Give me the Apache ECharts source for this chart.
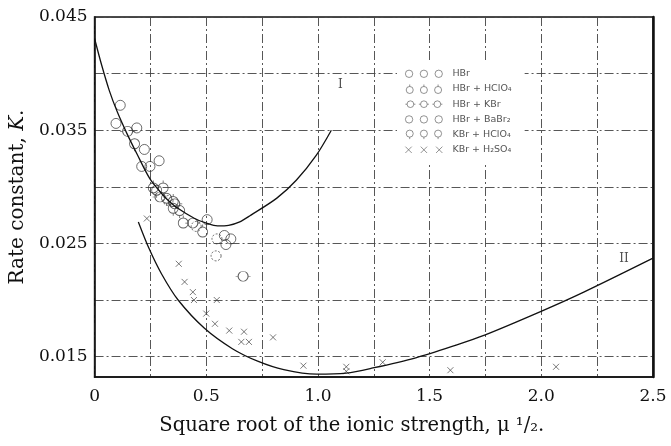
<!DOCTYPE html>
<html><head><meta charset="utf-8">
<script src="https://cdn.jsdelivr.net/npm/echarts@6/dist/echarts.min.js"></script>
<style>html,body{margin:0;padding:0;background:#fff}#c{width:671px;height:446px}</style>
</head><body><div id="c"></div>
<script>
// ---- data ----
const xLabelValues = [0, 0.5, 1.0, 1.5, 2.0, 2.5];
const xGridValues = [0, 0.25, 0.5, 0.75, 1.0, 1.25, 1.5, 1.75, 2.0, 2.25, 2.5];
const yLabelValues = [0.015, 0.025, 0.035, 0.045];
const yGridValues = [0.015, 0.020, 0.025, 0.030, 0.035, 0.040, 0.045];

const curveI = [[0,0.0431],[0.031,0.0408],[0.066,0.0385],[0.102,0.0366],[0.145,0.0347],[0.190,0.0329],
  [0.248,0.0307],[0.305,0.0293],[0.330,0.0288],[0.373,0.0281],[0.448,0.0272],[0.50,0.0268],[0.55,0.02655],
  [0.60,0.0266],[0.65,0.0269],[0.70,0.0275],[0.816,0.0290],[0.904,0.0306],[0.993,0.0328],[1.06,0.0350]];
const curveII = [[0.196,0.0269],[0.245,0.0245],[0.300,0.0223],[0.374,0.0200],[0.492,0.0175],[0.617,0.0157],
  [0.73,0.0146],[0.847,0.01385],[0.994,0.01345],[1.127,0.01355],[1.246,0.0140],[1.438,0.0149],[1.615,0.0160],
  [1.746,0.0169],[1.999,0.0190],[2.190,0.0207],[2.5,0.0237]];
const curveLabels = [['I', 1.10, 0.0390], ['II', 2.37, 0.0236]];

const seriesNames = ['HBr', 'HBr + HClO\u2084', 'HBr + KBr', 'HBr + BaBr\u2082', 'KBr + HClO\u2084', 'KBr + H\u2082SO\u2084'];
const hbr = [[0.115,0.0372],[0.096,0.0356],[0.189,0.0352],[0.223,0.0333],[0.289,0.0323],[0.211,0.0318],
  [0.248,0.0318],[0.504,0.0271],[0.581,0.0257],[0.610,0.0254],[0.588,0.0249]];
const hbrHClO4 = [[0.307,0.0299],[0.263,0.0299],[0.352,0.0287],[0.397,0.0268],[0.484,0.0260]];
const hbrKBr = [[0.148,0.0349],[0.293,0.0291],[0.359,0.0285],[0.440,0.0268],[0.665,0.0221]];
const hbrBaBr2 = [[0.548,0.0254],[0.544,0.0239],[0.455,0.0265],[0.329,0.0288]];
const kbrHClO4 = [[0.278,0.0297],[0.322,0.0290],[0.381,0.0279],[0.352,0.0281],[0.179,0.0338]];
const kbrH2SO4 = [[0.377,0.0232],[0.403,0.0216],[0.440,0.0207],[0.445,0.0200],[0.547,0.0200],[0.500,0.0188],
  [0.539,0.0179],[0.603,0.0173],[0.669,0.0172],[0.657,0.0163],[0.691,0.0163],[0.799,0.0167],[0.935,0.0142],
  [1.127,0.0141],[1.127,0.0137],[1.290,0.0145],[1.593,0.0138],[2.066,0.0141],[0.234,0.0272]];

// ---- symbol shapes ----
function circ(cx, cy, r) { return `M${cx-r},${cy}A${r},${r},0,1,1,${cx+r},${cy}A${r},${r},0,1,1,${cx-r},${cy}Z`; }
const symPlain = 'circle';
const symTop = 'path://' + circ(5,5,5) + 'M5,0L5,-2.5';
const symSides = 'path://' + circ(5,5,5) + 'M-2.5,5L0,5M10,5L12.5,5';
const symBottom = 'path://' + circ(5,5,5) + 'M5,10L5,12.5';
const symCross = 'path://M0,0L6,6M6,0L0,6';
const centers = [4, 18.5, 33];
function tri(f) { return 'path://' + centers.map(f).join(''); }
const legIcons = [
  tri(c => circ(c,4,3.6)),
  tri(c => circ(c,4,3.6) + `M${c},0.4L${c},-1.6`),
  tri(c => circ(c,4,3.6) + `M${c-5.4},4L${c-3.6},4M${c+3.6},4L${c+5.4},4`),
  tri(c => circ(c,4,3.6)),
  tri(c => circ(c,4,3.6) + `M${c},7.6L${c},9.6`),
  tri(c => `M${c-3},1L${c+3},7M${c+3},1L${c-3},7`)
];

const serif = 'DejaVu Serif';
const ptStyle = { color: 'transparent', borderColor: '#333', borderWidth: 0.9 };
function scatter(name, data, symbol, size, offset, extra) {
  return { type: 'scatter', name, data, symbol, symbolSize: size, symbolOffset: offset || [0,0],
    itemStyle: Object.assign({}, ptStyle, extra || {}), z: 3, emphasis: { disabled: true } };
}

const chart = echarts.init(document.getElementById('c'), null, { renderer: 'canvas' });
const gridLine = { show: true, lineStyle: { color: '#444', width: 0.9, type: [9, 3, 2, 3] } };
chart.setOption({
  animation: false,
  backgroundColor: '#fff',
  grid: { left: 89, right: 18, top: 17, bottom: 69, show: true, borderColor: '#111', borderWidth: 1.5 },
  legend: {
    orient: 'vertical', left: 397, top: 62, itemWidth: 37, itemHeight: 9, itemGap: 5.2,
    padding: [6.8, 13, 9, 8], backgroundColor: '#fff',
    data: seriesNames.map((n, i) => ({ name: n, icon: legIcons[i] })),
    itemStyle: { borderWidth: 0.8, borderColor: '#555', color: 'transparent' },
    textStyle: { fontFamily: 'DejaVu Sans', fontSize: 9.5, color: '#555', lineHeight: 9, padding: [0, 0, 0, 5] },
    selectedMode: false
  },
  xAxis: {
    type: 'value', min: 0, max: 2.5,
    axisLine: { show: true, lineStyle: { color: '#111', width: 1.5 } },
    axisTick: { show: false, customValues: xGridValues },
    axisLabel: { customValues: xLabelValues, fontFamily: serif, fontSize: 17, color: '#111', margin: 11,
      formatter: v => v === 0 ? '0' : v.toFixed(1) },
    splitLine: gridLine,
    name: 'Square root of the ionic strength, \u03bc \u00b9/\u2082.', nameLocation: 'middle', nameGap: 39,
    nameTextStyle: { fontFamily: serif, fontSize: 19.5, color: '#111', padding: [0, 44, 0, 0] }
  },
  yAxis: [{
    type: 'value', min: 0.0132, max: 0.045,
    axisLine: { show: true, lineStyle: { color: '#111', width: 1.5 } },
    axisTick: { show: false, customValues: yGridValues },
    axisLabel: { customValues: yLabelValues, fontFamily: serif, fontSize: 17, color: '#111', margin: 7,
      formatter: v => v.toFixed(3) },
    splitLine: gridLine,
    name: 'Rate constant, {i|K}.', nameLocation: 'middle', nameGap: 61,
    nameTextStyle: { fontFamily: serif, fontSize: 20, color: '#111',
      rich: { i: { fontFamily: serif, fontSize: 20, fontStyle: 'italic', color: '#111' } } }
  }, {
    type: 'value', min: 0.0132, max: 0.045, position: 'right',
    axisLine: { show: true, lineStyle: { color: '#111', width: 2.5 } },
    axisTick: { show: false }, axisLabel: { show: false }, splitLine: { show: false }
  }],
  series: [
    { type: 'line', name: 'curve I', data: curveI, showSymbol: false, smooth: 0.3,
      lineStyle: { color: '#111', width: 1.3 }, z: 4, silent: true },
    { type: 'line', name: 'curve II', data: curveII, showSymbol: false, smooth: 0.3,
      lineStyle: { color: '#111', width: 1.3 }, z: 4, silent: true },
    scatter(seriesNames[0], hbr, symPlain, 10),
    scatter(seriesNames[1], hbrHClO4, symTop, [10, 12.5], [0, -1.25]),
    scatter(seriesNames[2], hbrKBr, symSides, [15, 10]),
    scatter(seriesNames[3], hbrBaBr2, symPlain, 10, [0,0], { borderType: [2, 1.6] }),
    scatter(seriesNames[4], kbrHClO4, symBottom, [10, 12.5], [0, 1.25]),
    scatter(seriesNames[5], kbrH2SO4, symCross, 6, [0,0], { borderColor: '#444', borderWidth: 0.9 }),
    { type: 'scatter', name: 'labels', data: curveLabels.map(d => ({ name: d[0], value: [d[1], d[2]] })),
      symbol: 'circle', symbolSize: 1, itemStyle: { color: 'transparent' }, silent: true, z: 5,
      label: { show: true, formatter: p => p.name, fontFamily: serif, fontSize: 12, color: '#222', position: 'inside' } }
  ]
});
</script></body></html>
